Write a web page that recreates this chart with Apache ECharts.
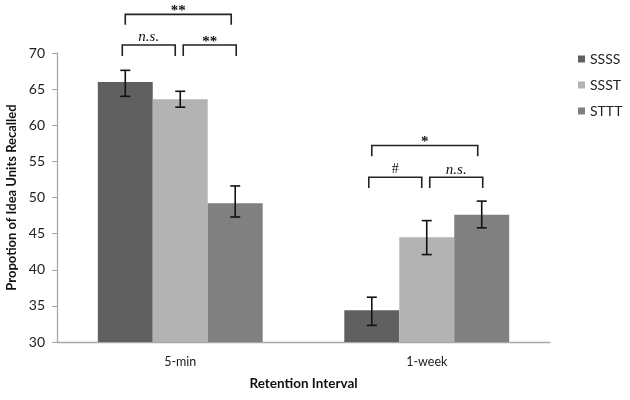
<!DOCTYPE html>
<html>
<head>
<meta charset="utf-8">
<script src="https://cdn.jsdelivr.net/npm/echarts@6/dist/echarts.min.js"></script>
<style>html,body{margin:0;padding:0;background:#fff}#c{width:630px;height:400px}</style>
</head>
<body>
<div id="c"></div>
<script>
// ---- data ----
const categories = ['5-min', '1-week'];
const seriesNames = ['SSSS', 'SSST', 'STTT'];
const ssss = [66.0, 34.4];
const ssst = [63.6, 44.5];
const sttt = [49.2, 47.6];
const ssssErr = [[64.0, 67.6], [32.3, 36.2]];
const ssstErr = [[62.5, 64.7], [42.1, 46.8]];
const sttttErr = [[47.3, 51.6], [45.8, 49.5]];
const yTicks = [30, 35, 40, 45, 50, 55, 60, 65, 70];
// brackets: [categoryIndex, fromBar, toBar, topValue, legBottomValue, label]
const brackets = [
  [0, 0, 2, 75.35, 73.9, '**'],
  [0, 0, 1, 71.1, 69.6, 'n.s.'],
  [0, 1, 2, 71.1, 69.6, '**'],
  [1, 0, 2, 57.2, 55.7, '*'],
  [1, 0, 1, 52.8, 51.3, '#'],
  [1, 1, 2, 52.8, 51.3, 'n.s.']
];

const colors = ['#606060', '#b3b3b3', '#808080'];
const values = [ssss, ssst, sttt];
const errs = [ssssErr, ssstErr, sttttErr];
const font = 'Lato, "Open Sans", sans-serif';
const serif = '"Liberation Serif", "DejaVu Serif", serif';

const chart = echarts.init(document.getElementById('c'));
const BAR_FRAC = 0.223; // bar width as fraction of band

function barCenter(api, cat, bar) {
  const c = api.coord([cat, 0]);
  const band = api.size([1, 0])[0];
  const bw = band * BAR_FRAC;
  return c[0] + (bar - 1) * bw;
}

const series = [];
seriesNames.forEach((n, i) => {
  series.push({
    name: n, type: 'bar', data: values[i],
    itemStyle: { color: colors[i] },
    barWidth: (BAR_FRAC * 100) + '%', barGap: '0%',
    emphasis: { disabled: true }
  });
});
// error bars
series.push({
  type: 'custom', silent: true, z: 5,
  data: (function () {
    const d = [];
    errs.forEach((e, s) => e.forEach((r, c) => d.push([c, s, r[0], r[1]])));
    return d;
  })(),
  renderItem: function (params, api) {
    const cat = api.value(0), s = api.value(1);
    const x = barCenter(api, cat, s);
    const lo = api.coord([cat, api.value(2)])[1];
    const hi = api.coord([cat, api.value(3)])[1];
    const w = 5;
    const st = { stroke: '#111', lineWidth: 1.6 };
    return { type: 'group', children: [
      { type: 'line', shape: { x1: x, y1: lo, x2: x, y2: hi }, style: st },
      { type: 'line', shape: { x1: x - w, y1: lo, x2: x + w, y2: lo }, style: st },
      { type: 'line', shape: { x1: x - w, y1: hi, x2: x + w, y2: hi }, style: st }
    ]};
  }
});
// significance brackets
series.push({
  type: 'custom', silent: true, z: 6, clip: false,
  data: brackets,
  renderItem: function (params, api) {
    const b = brackets[params.dataIndex];
    const cat = b[0], from = b[1], to = b[2];
    let x1 = barCenter(api, cat, from), x2 = barCenter(api, cat, to);
    if (to - from === 2) { x2 -= 4; }
    else if (from === 0) { x1 -= 3; x2 -= 5; }
    else { x1 += 3; x2 += 1; }
    const top = api.coord([cat, b[3]])[1];
    const bot = api.coord([cat, b[4]])[1];
    const st = { stroke: '#222', lineWidth: 1.6, fill: null };
    const label = b[5];
    const isNs = label === 'n.s.';
    const isStar = label.indexOf('*') >= 0;
    let ty, va;
    if (isStar) { ty = top - 3; va = 'middle'; }
    else if (isNs) { ty = top; va = 'bottom'; }
    else { ty = top - 1; va = 'bottom'; }
    return { type: 'group', children: [
      { type: 'polyline', shape: { points: [[x1, bot], [x1, top], [x2, top], [x2, bot]] }, style: st },
      { type: 'text', x: (x1 + x2) / 2, y: ty, style: {
        text: label, textAlign: 'center', textVerticalAlign: va,
        font: (isNs ? 'italic ' : (isStar ? 'bold ' : '')) + (label === '#' ? '14px ' : '15px ') + serif,
        fill: '#111' } }
    ]};
  }
});

chart.setOption({
  animation: false,
  textStyle: { fontFamily: font },
  grid: { left: 57, right: 80, top: 53, bottom: 58, containLabel: false, outerBoundsMode: 'none' },
  legend: {
    orient: 'vertical', left: 573, top: 47,
    itemWidth: 7, itemHeight: 7, itemGap: 12,
    icon: 'rect',
    data: seriesNames,
    textStyle: { fontFamily: font, fontSize: 14, color: '#222' }
  },
  xAxis: {
    type: 'category', data: categories,
    name: 'Retention Interval', nameLocation: 'middle', nameGap: 35,
    nameTextStyle: { fontFamily: font, fontSize: 13.5, fontWeight: 'bold', color: '#111' },
    axisLine: { lineStyle: { color: '#a8a8a8', width: 1.3 } },
    axisTick: { show: false },
    axisLabel: { fontFamily: font, fontSize: 12.5, color: '#222', margin: 13 }
  },
  yAxis: {
    type: 'value', min: yTicks[0], max: yTicks[yTicks.length - 1], interval: 5,
    name: 'Propotion of Idea Units Recalled', nameLocation: 'middle', nameGap: 32,
    nameTextStyle: { fontFamily: font, fontSize: 13, fontWeight: 'bold', color: '#111' },
    axisLine: { show: true, lineStyle: { color: '#a8a8a8', width: 1.3 } },
    axisTick: { show: true, length: 5, lineStyle: { color: '#a8a8a8' } },
    splitLine: { show: false },
    axisLabel: { fontFamily: font, fontSize: 14, color: '#222', margin: 12 }
  },
  series: series
});
</script>
</body>
</html>
